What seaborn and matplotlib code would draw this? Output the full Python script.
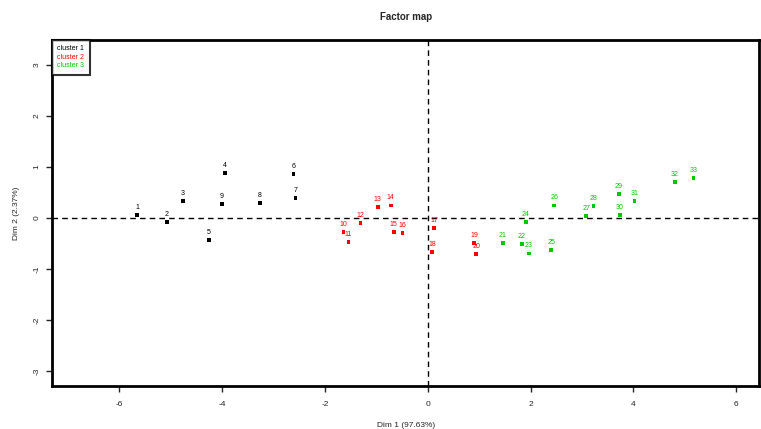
import matplotlib
matplotlib.use("Agg")
import matplotlib.pyplot as plt
from matplotlib.lines import Line2D
import seaborn as sns
import pandas as pd

# coordinates (Dim 1, Dim 2)
labels = [str(i) for i in range(1, 34)]
dim1 = [-5.65, -5.07, -4.76, -3.94, -4.25, -2.61, -2.57, -3.26, -4.00,
        -1.64, -1.54, -1.31, -0.97, -0.72, -0.66, -0.49, 0.12, 0.08, 0.90, 0.94,
        1.46, 1.83, 1.97, 1.91, 2.40, 2.46, 3.08, 3.22, 3.72, 3.74, 4.02, 4.81, 5.17]
dim2 = [0.06, -0.08, 0.33, 0.88, -0.43, 0.86, 0.39, 0.29, 0.27,
        -0.27, -0.47, -0.10, 0.22, 0.25, -0.27, -0.29, -0.19, -0.66, -0.49, -0.70,
        -0.49, -0.51, -0.69, -0.08, -0.63, 0.25, 0.04, 0.24, 0.47, 0.06, 0.33, 0.71, 0.78]
cluster = ["cluster 1"] * 9 + ["cluster 2"] * 11 + ["cluster 3"] * 13
cluster_names = ["cluster 1", "cluster 2", "cluster 3"]
cluster_colors = ["black", "red", "#00C800"]

df = pd.DataFrame({"label": labels, "dim1": dim1, "dim2": dim2, "cluster": cluster})
pal = dict(zip(cluster_names, cluster_colors))

sns.set_style("white")
plt.rcParams["font.family"] = ["Liberation Sans", "DejaVu Sans"]
plt.rcParams["axes.unicode_minus"] = False

fig = plt.figure(figsize=(7.61, 4.29), dpi=100)
ax = fig.add_axes([0.068, 0.100, 0.930, 0.807])

sns.scatterplot(data=df, x="dim1", y="dim2", hue="cluster", palette=pal,
                marker="s", s=7, linewidth=0, legend=False, ax=ax)

for _, r in df.iterrows():
    ax.annotate(r["label"], (r["dim1"], r["dim2"]), xytext=(0, 3),
                textcoords="offset points", ha="center", va="bottom",
                fontsize=5, color=pal[r["cluster"]])

ax.axhline(0, color="black", lw=1, ls=(0, (4, 3)))
ax.axvline(0, color="black", lw=1, ls=(0, (4, 3)))

ax.set_xlim(-7.31, 6.45)
ax.set_ylim(-3.29, 3.49)
ax.set_xticks([-6, -4, -2, 0, 2, 4, 6])
ax.set_yticks([-3, -2, -1, 0, 1, 2, 3])
ax.tick_params(axis="both", direction="out", length=4, width=1, labelsize=6,
               bottom=True, left=True)
ax.tick_params(axis="x", pad=7)
ax.tick_params(axis="y", pad=4)
for t in ax.get_yticklabels():
    t.set_rotation(90)
    t.set_va("center")

for s in ax.spines.values():
    s.set_linewidth(2)
    s.set_color("black")

ax.set_xlabel("Dim 1 (97.63%)", fontsize=6, labelpad=10)
ax.set_ylabel("Dim 2 (2.37%)", fontsize=6, labelpad=10)
ax.set_title("Factor map", fontsize=7, fontweight="bold", pad=14)

handles = [Line2D([], [], lw=0, color=c) for c in cluster_colors]
leg = ax.legend(handles, cluster_names, loc="upper left", handlelength=0,
                handletextpad=0, fontsize=5, labelcolor=cluster_colors,
                frameon=True, fancybox=False, borderaxespad=0, borderpad=0.8,
                labelspacing=0.2)
leg.get_frame().set_edgecolor("black")
leg.get_frame().set_linewidth(1.5)

fig.savefig("out.png", dpi=100)
